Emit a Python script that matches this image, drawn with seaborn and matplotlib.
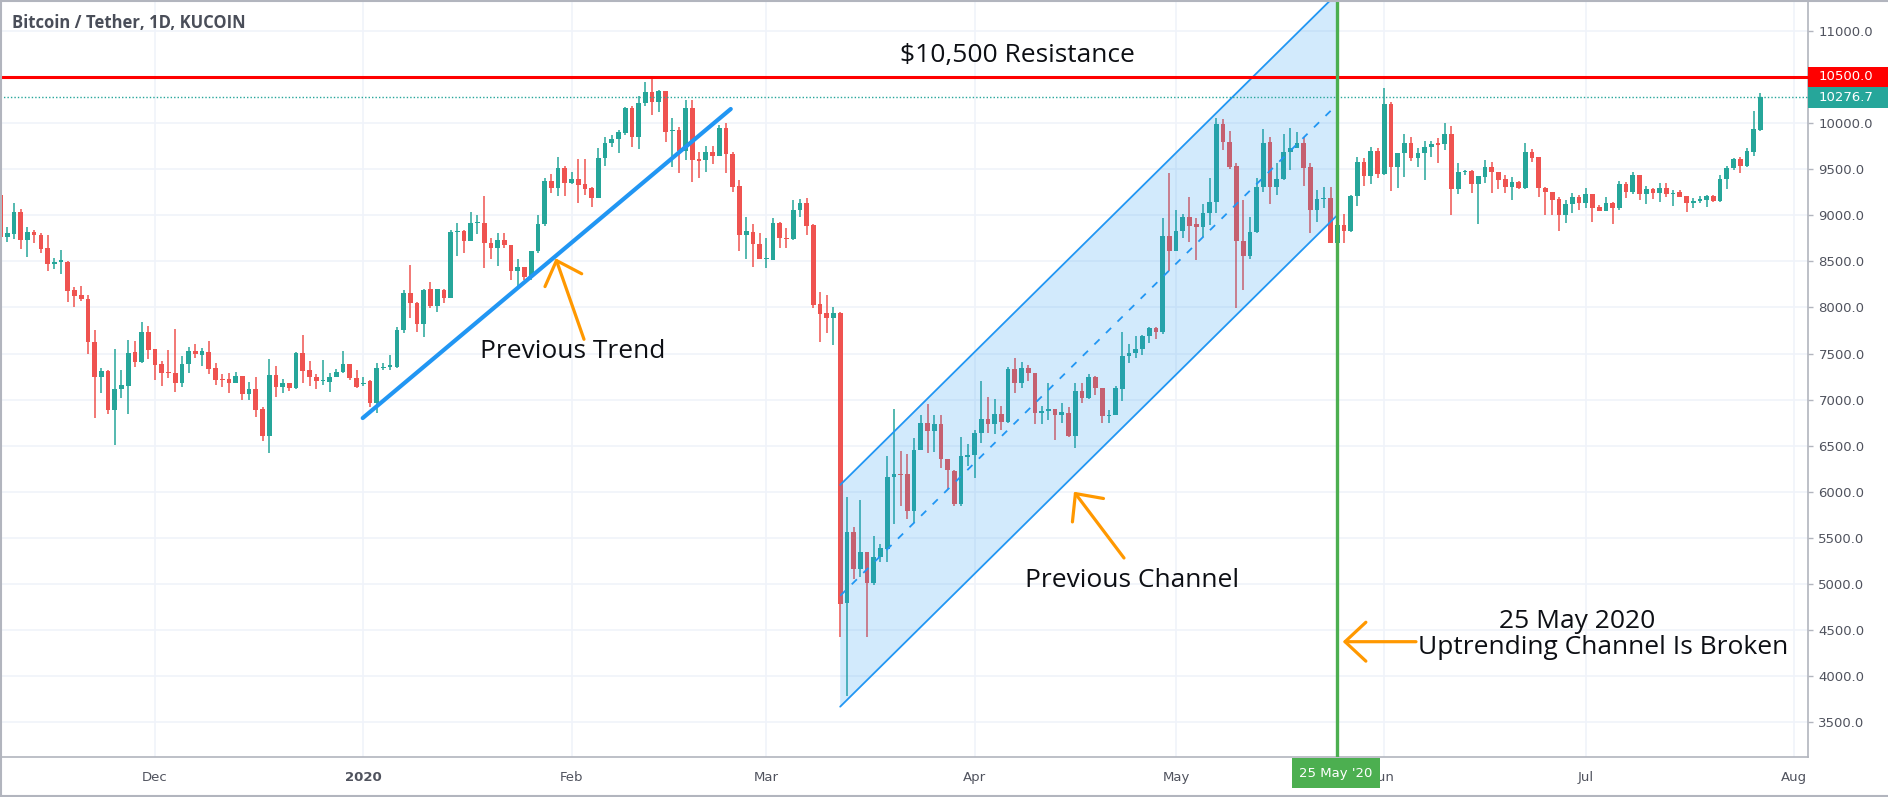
import numpy as np
import pandas as pd
import matplotlib
matplotlib.use("Agg")
import matplotlib.pyplot as plt
import matplotlib.dates as mdates
import matplotlib.transforms as mtransforms
from matplotlib.patches import Rectangle, Polygon
from matplotlib.text import Annotation
import seaborn as sns

# daily candles, KuCoin BTC/USDT, 8 Nov 2019 -> 27 Jul 2020
dates = pd.date_range("2019-11-08", "2020-07-27", freq="D")

opens = [
    # Nov
    9220, 8760, 8796, 9035, 8731, 8818, 8782, 8644, 8467, 8496, 8496, 8189, 8131, 8095, 7621, 7249, 7307, 6888, 7115, 7152, 7513, 7412, 7737,
    # Dec
    7545, 7386, 7303, 7292, 7184, 7386, 7524, 7484, 7520, 7339, 7227, 7220, 7184, 7256, 7057, 7112, 6895, 6609, 7267, 7141, 7177, 7123, 7502, 7321, 7249, 7202, 7195, 7242, 7303, 7386, 7231,
    # Jan
    7165, 7202, 6960, 7339, 7357, 7350, 7755, 8153, 8051, 7817, 8196, 8015, 8189, 8106, 8814, 8832, 8720, 8915, 8915, 8702, 8641, 8731, 8677, 8398, 8435, 8333, 8612, 8901, 9375, 9299, 9516,
    # Feb
    9346, 9393, 9335, 9299, 9190, 9617, 9779, 9823, 9895, 10159, 9852, 10215, 10333, 10231, 10347, 9913, 9924, 9700, 10166, 9610, 9599, 9682, 9646, 9949, 9660, 9320, 8785, 8814, 8688,
    # Mar
    8525, 8514, 8912, 8756, 8738, 9057, 9136, 8894, 8033, 7936, 7882, 7936, 4797, 5560, 5159, 5344, 5008, 5297, 5376, 6157, 6193, 6193, 5796, 6453, 6743, 6660, 6732, 6352, 6229, 5868, 6381,
    # Apr
    6399, 6634, 6786, 6732, 6840, 6761, 7328, 7184, 7346, 7285, 6851, 6876, 6894, 6833, 6858, 6605, 7097, 7014, 7242, 7122, 6822, 6833, 7115, 7476, 7502, 7545, 7694, 7773, 7737, 8778,
    # May
    8615, 8829, 8977, 8901, 8869, 9020, 9147, 9986, 9798, 9534, 8720, 8558, 8814, 9310, 9798, 9310, 9389, 9689, 9732, 9779, 9519, 9057, 9172, 9183, 8702, 8894, 8829, 9208, 9581, 9425, 9700,
    # Jun
    9447, 10202, 9519, 9671, 9787, 9617, 9671, 9736, 9779, 9772, 9881, 9281, 9465, 9479, 9338, 9418, 9526, 9465, 9393, 9302, 9364, 9291, 9682, 9628, 9291, 9248, 9172, 9002, 9122, 9201,
    # Jul
    9129, 9226, 9093, 9049, 9136, 9075, 9338, 9255, 9436, 9230, 9281, 9237, 9292, 9230, 9248, 9208, 9129, 9158, 9165, 9208, 9154, 9389, 9516, 9606, 9537, 9689, 9924,
]

highs = [
    9250, 8876, 9129, 9064, 8868, 8840, 8803, 8782, 8532, 8623, 8500, 8225, 8232, 8131, 7755, 7339, 7320, 7545, 7321, 7647, 7639, 7842, 7798,
    7550, 7422, 7538, 7762, 7477, 7574, 7600, 7556, 7636, 7394, 7274, 7285, 7303, 7260, 7188, 7242, 6924, 7437, 7365, 7220, 7180, 7520, 7701, 7422, 7278, 7430, 7285, 7330, 7527, 7390, 7321,
    7249, 7210, 7394, 7394, 7484, 7791, 8189, 8460, 8055, 8195, 8279, 8200, 8200, 8840, 8912, 8840, 9031, 9000, 9208, 8749, 8810, 8810, 8680, 8525, 8440, 8615, 9002, 9400, 9447, 9635, 9534,
    9472, 9606, 9606, 9310, 9725, 9852, 9870, 9924, 10177, 10180, 10290, 10448, 10502, 10358, 10350, 10051, 9960, 10250, 10250, 9689, 9751, 9751, 9978, 9996, 9689, 9382, 8984, 8901, 8803,
    8749, 8966, 8923, 8858, 9165, 9172, 9183, 8900, 8171, 8135, 8001, 7954, 5947, 5622, 5911, 5350, 5521, 5434, 6388, 6894, 6446, 6410, 6580, 6833, 6949, 6833, 6833, 6355, 6235, 6598, 6518,
    6670, 7205, 7032, 7007, 6931, 7350, 7448, 7411, 7375, 7290, 6931, 7177, 6900, 6967, 6923, 7177, 7184, 7278, 7256, 7130, 6887, 7148, 7737, 7600, 7690, 7701, 7791, 7791, 8966, 9454,
    9057, 9010, 9194, 8966, 9122, 9400, 10051, 10040, 9913, 9562, 9165, 8984, 9400, 9935, 9845, 9570, 9881, 9942, 9906, 9845, 9570, 9273, 9310, 9302, 9013, 9013, 9219, 9635, 9617, 9736, 9725,
    10376, 10231, 9678, 9881, 9852, 9725, 9808, 9808, 9834, 9996, 9971, 9562, 9490, 9485, 9430, 9599, 9573, 9470, 9436, 9418, 9370, 9779, 9718, 9635, 9310, 9252, 9201, 9165, 9244, 9219,
    9292, 9230, 9111, 9194, 9147, 9375, 9364, 9465, 9440, 9317, 9292, 9346, 9346, 9273, 9273, 9210, 9183, 9208, 9219, 9219, 9436, 9534, 9617, 9635, 9725, 10134, 10322,
]

lows = [
    8730, 8713, 8740, 8630, 8543, 8702, 8587, 8398, 8420, 8362, 8062, 8001, 8070, 7495, 6797, 7068, 6844, 6508, 7014, 6840, 7357, 7394, 7440,
    7213, 7148, 7231, 7086, 7141, 7292, 7448, 7365, 7278, 7159, 7133, 7075, 7177, 6996, 6996, 6815, 6555, 6425, 7032, 7068, 7097, 7110, 7177, 7151, 7112, 7159, 7079, 7240, 7285, 7213, 7122,
    7150, 6924, 6859, 7320, 7321, 7339, 7726, 7882, 7737, 7683, 7990, 7954, 8051, 8100, 8558, 8594, 8715, 8800, 8431, 8521, 8449, 8641, 8297, 8232, 8297, 8297, 8586, 8887, 9237, 9208, 9208,
    9340, 9129, 9219, 9093, 9185, 9534, 9736, 9671, 9870, 9736, 9714, 10185, 10087, 10123, 9798, 9526, 9454, 9599, 9364, 9400, 9472, 9552, 9642, 9454, 9255, 8615, 8521, 8435, 8521,
    8424, 8510, 8648, 8641, 8735, 8984, 8785, 7990, 7629, 7726, 7592, 4429, 3786, 5051, 5080, 4429, 4990, 5243, 5243, 5651, 5846, 5705, 5665, 6450, 6425, 6435, 6255, 6027, 5850, 5850, 6280,
    6146, 6533, 6641, 6623, 6670, 6750, 7075, 7122, 7200, 6732, 6732, 6779, 6562, 6750, 6598, 6471, 6960, 7003, 7050, 6743, 6743, 6830, 6989, 7394, 7448, 7484, 7618, 7654, 7712, 8398,
    8610, 8749, 8713, 8514, 8767, 8894, 9028, 9707, 9500, 7997, 8189, 8521, 8803, 9255, 9122, 9219, 9382, 9490, 9725, 9317, 8811, 8930, 9075, 8695, 8650, 8702, 8821, 9104, 9317, 9339, 9400,
    9440, 9266, 9291, 9418, 9588, 9526, 9382, 9628, 9562, 9707, 9002, 9230, 9436, 9244, 8901, 9353, 9237, 9281, 9237, 9165, 9281, 9281, 9581, 9201, 9002, 9002, 8832, 8919, 9028, 9057,
    9082, 8930, 9046, 9045, 8901, 9057, 9183, 9230, 9165, 9118, 9172, 9147, 9194, 9104, 9194, 9039, 9082, 9129, 9093, 9140, 9147, 9281, 9490, 9461, 9526, 9642, 9913,
]

closes = [
    8760, 8803, 9035, 8731, 8818, 8782, 8633, 8467, 8496, 8505, 8182, 8124, 8088, 7621, 7249, 7307, 6888, 7115, 7159, 7502, 7412, 7737, 7538,
    7375, 7285, 7285, 7184, 7386, 7524, 7495, 7524, 7332, 7213, 7213, 7184, 7256, 7057, 7112, 6888, 6609, 7267, 7141, 7177, 7130, 7502, 7314, 7249, 7202, 7206, 7249, 7303, 7386, 7231, 7141,
    7184, 6960, 7339, 7357, 7362, 7755, 8153, 8044, 7817, 8189, 8015, 8196, 8106, 8814, 8832, 8720, 8915, 8925, 8695, 8641, 8731, 8677, 8398, 8435, 8333, 8612, 8901, 9375, 9299, 9516, 9346,
    9393, 9328, 9284, 9190, 9617, 9779, 9823, 9906, 10159, 9852, 10215, 10333, 10231, 10347, 9906, 9918, 9700, 10166, 9599, 9588, 9682, 9646, 9949, 9660, 9310, 8785, 8829, 8684, 8525,
    8530, 8912, 8749, 8738, 9057, 9136, 8887, 8026, 7929, 7882, 7936, 4783, 5560, 5159, 5344, 5008, 5297, 5387, 6157, 6193, 6182, 5796, 6453, 6743, 6660, 6732, 6352, 6237, 5868, 6388, 6399,
    6641, 6786, 6732, 6840, 6761, 7328, 7184, 7346, 7285, 6851, 6876, 6894, 6833, 6869, 6605, 7097, 7014, 7242, 7122, 6822, 6833, 7122, 7476, 7502, 7545, 7694, 7773, 7737, 8778, 8615,
    8829, 8977, 8887, 8869, 9020, 9147, 9986, 9798, 9526, 8720, 8558, 8814, 9310, 9787, 9310, 9389, 9689, 9732, 9779, 9508, 9057, 9172, 9190, 8702, 8894, 8829, 9208, 9581, 9425, 9700, 9447,
    10202, 9519, 9671, 9787, 9617, 9671, 9736, 9772, 9761, 9881, 9281, 9465, 9479, 9338, 9425, 9526, 9465, 9382, 9302, 9364, 9291, 9682, 9617, 9291, 9248, 9165, 9002, 9122, 9201, 9129,
    9226, 9082, 9049, 9136, 9075, 9338, 9255, 9436, 9230, 9281, 9237, 9292, 9230, 9237, 9201, 9129, 9158, 9172, 9208, 9154, 9389, 9516, 9606, 9537, 9696, 9935, 10276.7,
]

# drawings
trend_dates = ["2019-12-31 22:00", "2020-02-24 17:00"]
trend_prices = [6800, 10152]
channel_dates = ["2020-03-12", "2020-05-25"]
channel_lower = [3670, 9000]
channel_upper = [6075, 11405]
resistance = 10500.0
last_price = 10276.7
break_date = "2020-05-25"

month_ticks = ["2019-12-01", "2020-01-01", "2020-02-01", "2020-03-01", "2020-04-01",
               "2020-05-01", "2020-06-01", "2020-07-01", "2020-08-01"]
month_labels = ["Dec", "2020", "Feb", "Mar", "Apr", "May", "Jun", "Jul", "Aug"]

df = pd.DataFrame({"date": dates, "open": opens, "high": highs, "low": lows, "close": closes})
df["x"] = mdates.date2num(df["date"])

UP = "#26a69a"
DOWN = "#ef5350"
BLUE = "#2196f3"
ORANGE = "#ff9800"
GREEN = "#4caf50"
AXIS = "#b2b5be"
LABEL = "#50535e"
TXT = "#131722"

sns.set_theme(style="white")
plt.rcParams["font.family"] = ["DejaVu Sans"]

W, H = 1888, 797
fig = plt.figure(figsize=(W / 100, H / 100), dpi=100)
ax = fig.add_axes([0, 40 / H, 1808 / W, 757 / H])

def tnum(s):
    return mdates.date2num(pd.Timestamp(s))

ax.set_xlim(tnum("2019-11-07 22:00"), tnum("2020-08-03 02:00"))
ax.set_ylim(3124, 11334)

# grid
ax.set_yticks(np.arange(3500, 11001, 500))
ax.set_xticks([tnum(d) for d in month_ticks])
ax.grid(True, color="#f0f3fa", lw=1.2, zorder=0)
ax.set_axisbelow(True)

# candles
colors = np.where(df["close"] >= df["open"], UP, DOWN)
ax.vlines(df["x"], df["low"], df["high"], colors=colors, lw=1.1, zorder=2)
body = (df["close"] - df["open"]).abs().clip(lower=14)
ax.bar(df["x"], body, bottom=np.minimum(df["open"], df["close"]), width=0.7,
       color=colors, lw=0, zorder=3)

# channel
cx = [tnum(d) for d in channel_dates]
poly = Polygon([(cx[0], channel_lower[0]), (cx[1], channel_lower[1]),
                (cx[1], channel_upper[1]), (cx[0], channel_upper[0])],
               closed=True, facecolor=BLUE, alpha=0.2, lw=0, zorder=4)
ax.add_patch(poly)
channel_mid = [(a + b) / 2 for a, b in zip(channel_lower, channel_upper)]
sns.lineplot(x=cx, y=channel_upper, ax=ax, color=BLUE, lw=1.3, zorder=5)
sns.lineplot(x=cx, y=channel_lower, ax=ax, color=BLUE, lw=1.3, zorder=5)
sns.lineplot(x=cx, y=channel_mid, ax=ax, color=BLUE, lw=1.3, linestyle=(0, (4, 5)), zorder=5)

# trend line
sns.lineplot(x=[tnum(d) for d in trend_dates], y=trend_prices, ax=ax, color=BLUE, lw=3, zorder=5)

# horizontal levels
ax.axhline(resistance, color="#ff0000", lw=2.2, zorder=6)
ax.axhline(last_price, color=UP, lw=1, linestyle=(0, (1, 1.5)), zorder=6)

# break marker
ax.axvline(tnum(break_date), color=GREEN, lw=2.4, zorder=6)

# axes styling
for s in ["top", "left"]:
    ax.spines[s].set_visible(False)
for s in ["right", "bottom"]:
    ax.spines[s].set_color(AXIS)
    ax.spines[s].set_linewidth(1.2)
ax.yaxis.tick_right()
ax.set_yticklabels([f"{v:.1f}" for v in np.arange(3500, 11001, 500)])
ax.set_xticklabels(month_labels)
ax.tick_params(axis="y", length=3.5, width=1, color=AXIS, pad=4, labelsize=9.5, labelcolor=LABEL)
ax.tick_params(axis="x", length=3, width=1, color=AXIS, pad=7, labelsize=9.5, labelcolor=LABEL)
ax.get_xticklabels()[1].set_fontweight("bold")
ax.set_xlabel("")
ax.set_ylabel("")

def fx(x):
    return x / W

def fy(y):
    return 1 - y / H

# price tags on the right scale
blend = mtransforms.blended_transform_factory(fig.transFigure, ax.transData)
for price, col, label in [(resistance, "#ff0000", "10500.0"), (last_price, UP, "10276.7")]:
    fig.add_artist(Rectangle((fx(1808), price - 112), fx(80), 224, transform=blend,
                             facecolor=col, edgecolor="none", zorder=10))
    fig.text(fx(1819), price, label, transform=blend, color="white", fontsize=9.5,
             va="center", ha="left", zorder=11)

# date tag on the time scale
fig.add_artist(Rectangle((fx(1292), fy(788)), fx(88), 30 / H, transform=fig.transFigure,
                         facecolor=GREEN, edgecolor="none", zorder=10))
fig.text(fx(1336), fy(773), "25 May '20", color="white", fontsize=9.5, ha="center",
         va="center", zorder=11)

# title
fig.text(fx(12), fy(22.5), "Bitcoin / Tether, 1D, KUCOIN", color="#4a4e59", fontsize=12,
         fontweight="bold", family=["Open Sans", "DejaVu Sans"], va="center", ha="left")

# annotation texts
afont = dict(family=["Open Sans", "DejaVu Sans"], fontsize=19, fontweight="medium",
             color="#0d0f14", ha="center", va="baseline")
fig.text(fx(1017.5), fy(62), "$10,500 Resistance", **afont)
fig.text(fx(573), fy(358), "Previous Trend", **afont)
fig.text(fx(1132), fy(587), "Previous Channel", **afont)
fig.text(fx(1577.5), fy(628), "25 May 2020", **afont)
fig.text(fx(1603), fy(654), "Uptrending Channel Is Broken", **afont)

# arrows
arrow_kw = dict(arrowstyle="->,head_length=1.5,head_width=1.4", color=ORANGE, lw=2.3,
                shrinkA=0, shrinkB=0, mutation_scale=10)
for tip, tail in [((555.7, 258.3), (584, 339.3)),
                  ((1074, 491.7), (1124, 558)),
                  ((1342.7, 641.7), (1416, 641.7))]:
    fig.add_artist(Annotation(
        "", xy=(tip[0], H - tip[1]), xytext=(tail[0], H - tail[1]),
        xycoords="figure pixels", textcoords="figure pixels", arrowprops=arrow_kw))

# outer frame
for (x0, y0, x1, y1) in [(0.5, 0, 0.5, 797), (0, 0.5, 1888, 0.5), (0, 796, 1888, 796)]:
    fig.add_artist(plt.Line2D([fx(x0), fx(x1)], [fy(y0), fy(y1)], color=AXIS, lw=1.5,
                              transform=fig.transFigure, zorder=12))

fig.savefig("out.png", dpi=100)
